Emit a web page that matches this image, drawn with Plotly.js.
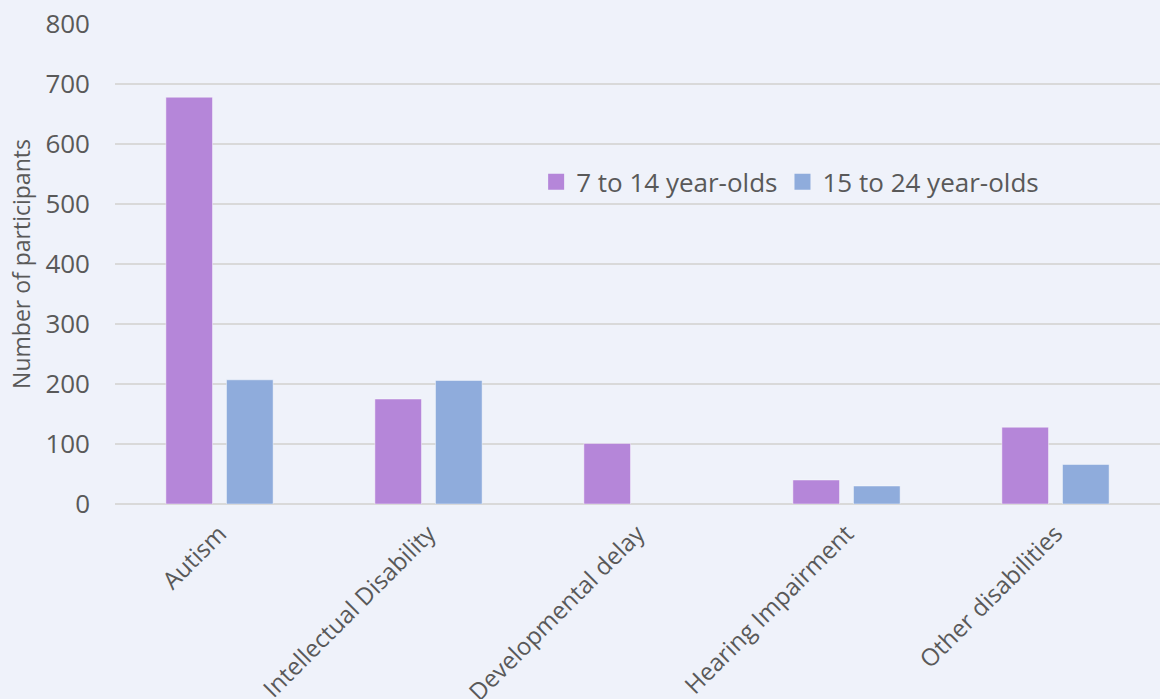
<!DOCTYPE html>
<html>
<head>
<meta charset="utf-8">
<script src="https://cdn.plot.ly/plotly-3.0.1.min.js"></script>
<style>html,body{margin:0;padding:0;background:#EFF2FA;overflow:hidden;}</style>
</head>
<body>
<div id="chart" style="width:1160px;height:699px;"></div>
<script>
const categories = ["Autism", "Intellectual Disability", "Developmental delay", "Hearing Impairment", "Other disabilities"];
const seriesNames = ["7 to 14 year-olds", "15 to 24 year-olds"];
const young = [678, 175, 101, 40, 128];
const older = [207, 206, null, 30, 66];
const yTicks = [0, 100, 200, 300, 400, 500, 600, 700, 800];
const colors = ["#B586D9", "#8FACDC"];

const font = "'Open Sans', 'Noto Sans', sans-serif";
const barLine = {color: "rgba(255,255,255,0.45)", width: 1};
const traces = [
  {type: "bar", name: seriesNames[0], x: categories, y: young, showlegend: false,
   marker: {color: colors[0], line: barLine}},
  {type: "bar", name: seriesNames[1], x: categories, y: older, showlegend: false,
   marker: {color: colors[1], line: barLine}},
  {type: "scatter", mode: "markers", name: seriesNames[0], x: [categories[0]], y: [null],
   marker: {symbol: "square", size: 16, color: colors[0]}, hoverinfo: "skip"},
  {type: "scatter", mode: "markers", name: seriesNames[1], x: [categories[0]], y: [null],
   marker: {symbol: "square", size: 16, color: colors[1]}, hoverinfo: "skip"}
];
const layout = {
  width: 1160, height: 699,
  paper_bgcolor: "#EFF2FA", plot_bgcolor: "#EFF2FA",
  margin: {l: 115, r: 0, t: 24, b: 195},
  barmode: "group", bargap: 0.42, bargroupgap: 0.23,
  font: {family: font, color: "#595959", size: 24},
  xaxis: {tickangle: -45, tickfont: {size: 24, color: "#595959"}, showgrid: false,
          showline: false, ticks: "", automargin: false, ticklabelstandoff: 10},
  yaxis: {range: [0, 800], tickvals: yTicks, ticktext: yTicks.map(String),
          gridcolor: "#D9D9D9", gridwidth: 2, zeroline: true, zerolinecolor: "#D9D9D9", zerolinewidth: 2,
          tickfont: {size: 26, color: "#595959"}, ticklabelstandoff: 24, automargin: false,
          title: {text: "Number of participants", font: {size: 23, color: "#595959"}, standoff: 8}},
  legend: {orientation: "h", x: 0.403, y: 0.671, xanchor: "left", yanchor: "middle",
           bgcolor: "rgba(0,0,0,0)", font: {size: 26, color: "#595959"}, itemwidth: 30},
  showlegend: true
};
Plotly.newPlot("chart", traces, layout, {displayModeBar: false, staticPlot: true});
</script>
</body>
</html>
